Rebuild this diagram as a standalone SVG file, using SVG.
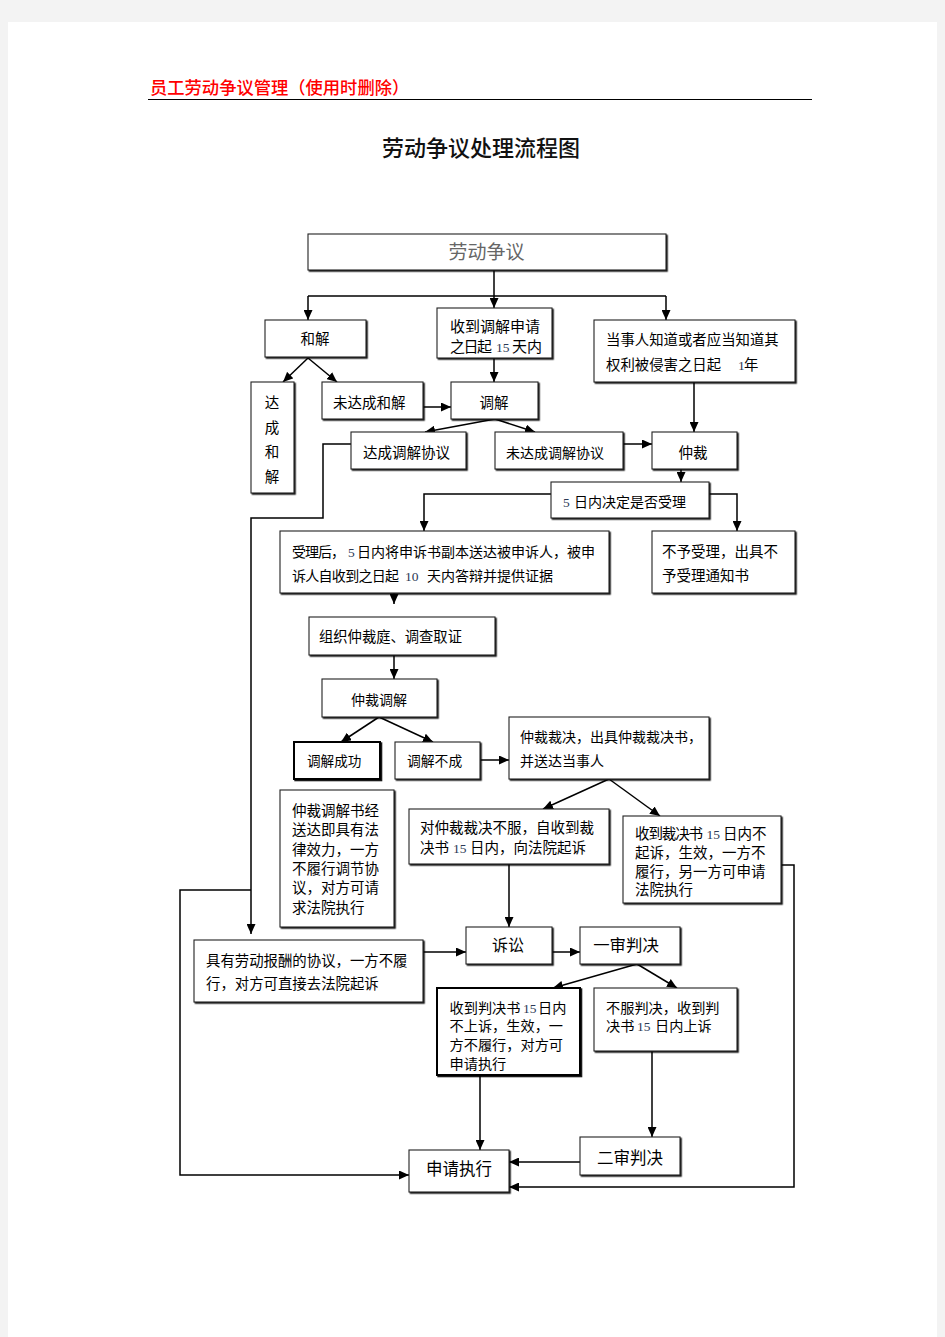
<svg xmlns="http://www.w3.org/2000/svg" width="945" height="1337" viewBox="0 0 945 1337">
<style>
.b{fill:#fff;stroke:#222;stroke-width:1.1;filter:url(#sh)}
.bt{fill:#fff;stroke:#000;stroke-width:2;filter:url(#sh)}
.t{font-family:"Noto Sans CJK SC",sans-serif;font-size:14.5px;fill:#000}
.m{text-anchor:middle}
.n{font-family:"Liberation Serif","Noto Sans CJK SC",serif;font-size:13.5px;fill:#2c3a55}
.c path{fill:none;stroke:#000;stroke-width:1.5}
.a{marker-end:url(#ar)}
</style>
<defs>
<filter id="sh" x="-5%" y="-5%" width="115%" height="125%">
<feDropShadow dx="1.3" dy="1.3" stdDeviation="0.2" flood-color="#000" flood-opacity="0.9"/>
</filter>
<marker id="ar" markerUnits="userSpaceOnUse" markerWidth="11" markerHeight="9" refX="10" refY="4.5" orient="auto">
<path d="M0,0 L10,4.5 L0,9 z" fill="#000"/>
</marker>
</defs>
<rect x="0" y="0" width="945" height="1337" fill="#f3f3f3"/>
<rect x="8" y="22" width="929" height="1315" fill="#fff"/>

<g id="header">
<text x="150" y="94" font-family="Noto Sans CJK SC, sans-serif" font-size="17.3" font-weight="500" fill="#ff0000">员工劳动争议管理（使用时删除）</text>
<path d="M148,99.5 H812" stroke="#000" stroke-width="1.2"/>
<text x="481" y="155.5" text-anchor="middle" font-family="Noto Sans CJK SC, sans-serif" font-size="22" font-weight="500" fill="#111">劳动争议处理流程图</text>
</g>

<g class="c">
<path class="a" d="M494,270 V308"/>
<path d="M308,296 H666"/>
<path class="a" d="M308,296 V320"/>
<path class="a" d="M666,296 V320"/>
<path class="a" d="M308,358 L283,382"/>
<path class="a" d="M308,358 L337,382"/>
<path class="a" d="M494,358 V382"/>
<path class="a" d="M423,407 H451"/>
<path class="a" d="M495,419 L425,432"/>
<path class="a" d="M495,419 L535,432"/>
<path class="a" d="M694,382 V432"/>
<path class="a" d="M623,444 H652"/>
<path class="a" d="M681,469 V482"/>
<path class="a" d="M551,494 H424 V531"/>
<path class="a" d="M709,494 H737 V531"/>
<path class="a" d="M394,593 V604"/>
<path class="a" d="M394,655 V679"/>
<path class="a" d="M379,717 L341,742"/>
<path class="a" d="M379,717 L433,742"/>
<path class="a" d="M480,760 H509"/>
<path class="a" d="M609,779 L543,809"/>
<path class="a" d="M609,779 L660,816"/>
<path class="a" d="M351,444 H323 V518 H251 V934"/>
<path class="a" d="M251,890 H180 V1175 H409"/>
<path class="a" d="M781,865 H794 V1187 H509"/>
<path class="a" d="M509,864 V927"/>
<path class="a" d="M423,952 H466"/>
<path class="a" d="M552,952 H580"/>
<path class="a" d="M637,964 L553,988"/>
<path class="a" d="M637,964 L677,988"/>
<path class="a" d="M480,1075 V1150"/>
<path class="a" d="M652,1051 V1137"/>
<path class="a" d="M580,1162 H509"/>
</g>

<g id="n-labor"><rect class="b" x="308" y="234" width="358" height="36"/>
<text class="t m" x="486.5" y="259" style="font-size:19px;fill:#666">劳动争议</text></g>

<g id="n-hejie"><rect class="b" x="265" y="320" width="101" height="37"/>
<text class="t m" x="315" y="344">和解</text></g>

<g id="n-apply"><rect class="b" x="437" y="308" width="115" height="50"/>
<text class="t" x="450" y="331.5" style="font-size:15px">收到调解申请</text>
<text class="t" y="352" style="font-size:15px"><tspan x="450" textLength="42">之日起</tspan><tspan class="n" x="496">15</tspan><tspan x="512">天内</tspan></text></g>

<g id="n-oneyear"><rect class="b" x="594" y="320" width="201" height="62"/>
<text class="t" x="606" y="345" style="font-size:14.4px">当事人知道或者应当知道其</text>
<text class="t" y="370" style="font-size:14.4px"><tspan x="606">权利被侵害之日起</tspan><tspan class="n" x="738">1</tspan><tspan x="744">年</tspan></text></g>

<g id="n-reach"><rect class="b" x="251" y="382" width="43" height="111"/>
<text class="t m" x="272" y="408">达</text>
<text class="t m" x="272" y="433">成</text>
<text class="t m" x="272" y="457">和</text>
<text class="t m" x="272" y="482">解</text></g>

<g id="n-nohejie"><rect class="b" x="322" y="382" width="101" height="37"/>
<text class="t" x="333" y="408">未达成和解</text></g>

<g id="n-tiaojie"><rect class="b" x="451" y="382" width="87" height="37"/>
<text class="t m" x="494" y="408">调解</text></g>

<g id="n-agree"><rect class="b" x="351" y="432" width="115" height="37"/>
<text class="t" x="363" y="458">达成调解协议</text></g>

<g id="n-noagree"><rect class="b" x="495" y="432" width="128" height="37"/>
<text class="t" x="506" y="458" style="font-size:14px">未达成调解协议</text></g>

<g id="n-arb"><rect class="b" x="652" y="432" width="85" height="37"/>
<text class="t m" x="693" y="458">仲裁</text></g>

<g id="n-5day"><rect class="b" x="551" y="482" width="158" height="36"/>
<text class="t" y="507" style="font-size:14px"><tspan class="n" x="563">5</tspan><tspan x="574">日内决定是否受理</tspan></text></g>

<g id="n-accept"><rect class="b" x="280" y="531" width="329" height="62"/>
<text class="t" y="557" style="font-size:14px"><tspan x="292" textLength="53">受理后，</tspan><tspan class="n" x="348">5</tspan><tspan x="357">日内将申诉书副本送达被申诉人，被申</tspan></text>
<text class="t" y="581" style="font-size:14px"><tspan x="292" textLength="107">诉人自收到之日起</tspan><tspan class="n" x="405">10</tspan><tspan x="427">天内答辩并提供证据</tspan></text></g>

<g id="n-reject"><rect class="b" x="652" y="531" width="143" height="62"/>
<text class="t" x="662" y="557">不予受理，出具不</text>
<text class="t" x="662" y="581">予受理通知书</text></g>

<g id="n-tribunal"><rect class="b" x="309" y="617" width="186" height="38"/>
<text class="t" x="319" y="642" style="font-size:14.3px">组织仲裁庭、调查取证</text></g>

<g id="n-arbmed"><rect class="b" x="322" y="679" width="115" height="38"/>
<text class="t m" x="379" y="705" style="font-size:14px">仲裁调解</text></g>

<g id="n-medok"><rect class="bt" x="294" y="742" width="86" height="37"/>
<text class="t" x="307" y="766" style="font-size:13.6px">调解成功</text></g>

<g id="n-medfail"><rect class="b" x="395" y="742" width="85" height="37"/>
<text class="t" x="407" y="766" style="font-size:13.8px">调解不成</text></g>

<g id="n-award"><rect class="b" x="509" y="717" width="200" height="62"/>
<text class="t" x="520" y="742" style="font-size:14px">仲裁裁决，出具仲裁裁决书，</text>
<text class="t" x="520" y="766" style="font-size:14px">并送达当事人</text></g>

<g id="n-medbook"><rect class="b" x="280" y="790" width="114" height="137"/>
<text class="t" x="292" y="816">仲裁调解书经</text>
<text class="t" x="292" y="835.3">送达即具有法</text>
<text class="t" x="292" y="854.6">律效力，一方</text>
<text class="t" x="292" y="874">不履行调节协</text>
<text class="t" x="292" y="893.2">议，对方可请</text>
<text class="t" x="292" y="912.5">求法院执行</text></g>

<g id="n-sue"><rect class="b" x="409" y="809" width="200" height="55"/>
<text class="t" x="420" y="833">对仲裁裁决不服，自收到裁</text>
<text class="t" y="853"><tspan x="420">决书</tspan><tspan class="n" x="453">15</tspan><tspan x="470">日内，向法院起诉</tspan></text></g>

<g id="n-effect"><rect class="b" x="623" y="816" width="158" height="87"/>
<text class="t" y="838.5"><tspan x="635" textLength="68">收到裁决书</tspan><tspan class="n" x="706.5">15</tspan><tspan x="723">日内不</tspan></text>
<text class="t" x="635" y="857.5">起诉，生效，一方不</text>
<text class="t" x="635" y="876.5">履行，另一方可申请</text>
<text class="t" x="635" y="895">法院执行</text></g>

<g id="n-contract"><rect class="b" x="194" y="940" width="229" height="62"/>
<text class="t" x="206" y="965.5" style="font-size:14.4px">具有劳动报酬的协议，一方不履</text>
<text class="t" x="206" y="989" style="font-size:14.4px">行，对方可直接去法院起诉</text></g>

<g id="n-lawsuit"><rect class="b" x="466" y="927" width="86" height="37"/>
<text class="t m" x="508" y="951" style="font-size:16px">诉讼</text></g>

<g id="n-first"><rect class="b" x="580" y="927" width="100" height="37"/>
<text class="t m" x="626" y="951" style="font-size:16.4px">一审判决</text></g>

<g id="n-judgok"><rect class="bt" x="437" y="988" width="143" height="87"/>
<text class="t" y="1012.5" style="font-size:14.2px"><tspan x="449.5">收到判决书</tspan><tspan class="n" x="523">15</tspan><tspan x="538">日内</tspan></text>
<text class="t" x="449.5" y="1031" style="font-size:14.2px">不上诉，生效，一</text>
<text class="t" x="449.5" y="1050" style="font-size:14.2px">方不履行，对方可</text>
<text class="t" x="449.5" y="1068.5" style="font-size:14.2px">申请执行</text></g>

<g id="n-appeal"><rect class="b" x="594" y="988" width="143" height="63"/>
<text class="t" x="606" y="1012.5" style="font-size:14.2px">不服判决，收到判</text>
<text class="t" y="1031" style="font-size:14.2px"><tspan x="606">决书</tspan><tspan class="n" x="637">15</tspan><tspan x="655">日内上诉</tspan></text></g>

<g id="n-second"><rect class="b" x="580" y="1137" width="100" height="38"/>
<text class="t m" x="630" y="1164" style="font-size:16.5px">二审判决</text></g>

<g id="n-exec"><rect class="b" x="409" y="1150" width="100" height="42"/>
<text class="t m" x="459" y="1175" style="font-size:16.5px">申请执行</text></g>
</svg>
